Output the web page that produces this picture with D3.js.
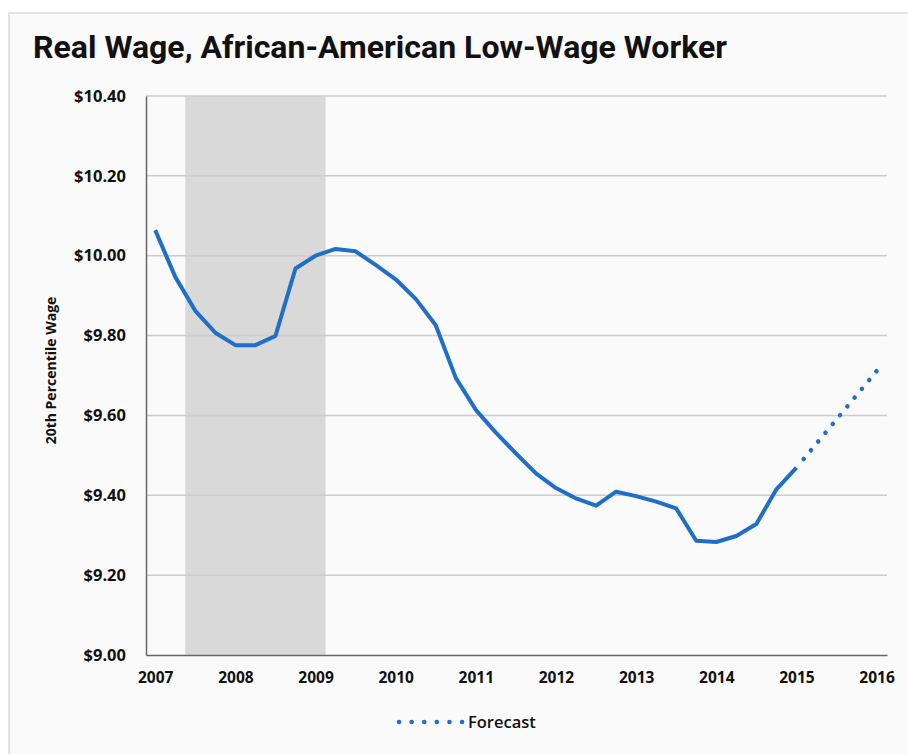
<!DOCTYPE html>
<html>
<head>
<meta charset="utf-8">
<script src="https://cdn.jsdelivr.net/npm/d3@7"></script>
<style>
  body { margin: 0; background: #fff; }
  text { font-family: "Open Sans", "Noto Sans", sans-serif; fill: #111; }
</style>
</head>
<body>
<svg width="908" height="754"></svg>
<script>
// quarterly real wage, 2007 Q1 .. 2015 Q1
var firstYear = 2007;
var wages = [10.064, 9.947, 9.862, 9.807,
             9.776, 9.776, 9.799, 9.968,
             10.000, 10.017, 10.011, 9.977,
             9.941, 9.892, 9.826, 9.694,
             9.614, 9.557, 9.505, 9.455,
             9.418, 9.392, 9.374, 9.409,
             9.398, 9.384, 9.367, 9.286,
             9.283, 9.298, 9.328, 9.415,
             9.469];
var forecastYears = [2015, 2016];
var forecastWages = [9.469, 9.711];
var recession = [2007.375, 2009.125];
var yearTicks = [2007, 2008, 2009, 2010, 2011, 2012, 2013, 2014, 2015, 2016];
var wageTicks = [9.0, 9.2, 9.4, 9.6, 9.8, 10.0, 10.2, 10.4];

var svg = d3.select("svg"),
    margin = {left: 146, right: 21, top: 96, bottom: 99},
    width = 908 - margin.left - margin.right,
    height = 754 - margin.top - margin.bottom;

// panel background + frame
svg.append("rect")
    .attr("x", 9).attr("y", 13)
    .attr("width", 940).attr("height", 760)
    .style("fill", "#fafafa")
    .style("stroke", "#dcdcdc")
    .style("stroke-width", 1.5);

svg.append("text")
    .attr("x", 33).attr("y", 58)
    .attr("textLength", 694)
    .attr("lengthAdjust", "spacingAndGlyphs")
    .style("font-family", "Roboto, 'Open Sans', sans-serif")
    .style("font-weight", 700)
    .style("font-size", "32px")
    .text("Real Wage, African-American Low-Wage Worker");

var g = svg.append("g").attr("transform", "translate(" + margin.left + "," + margin.top + ")");

var x = d3.scaleLinear().domain([2006.885, 2016.13]).range([0, width]);
var y = d3.scaleLinear().domain([9.0, 10.4]).range([height, 0]);

// recession shading
g.append("rect")
    .attr("x", x(recession[0]))
    .attr("y", 0)
    .attr("width", x(recession[1]) - x(recession[0]))
    .attr("height", height)
    .style("fill", "#d9d9d9");

// gridlines
g.selectAll(".grid")
  .data(wageTicks.slice(1))
  .enter().append("line")
    .attr("class", "grid")
    .attr("x1", 0).attr("x2", width)
    .attr("y1", function(d) { return y(d); })
    .attr("y2", function(d) { return y(d); })
    .style("stroke", "#cccccc")
    .style("stroke-width", 1.5);

// y axis
var yAxis = g.append("g")
    .call(d3.axisLeft(y).tickValues(wageTicks).tickSize(0).tickPadding(20)
      .tickFormat(function(d) { return "$" + d.toFixed(2); }));
yAxis.select(".domain").style("stroke", "#666").style("stroke-width", 1.5);
yAxis.selectAll("text")
    .style("font-size", "16.5px")
    .style("font-weight", 700)
    .style("fill", "#111");

// x axis
var xAxis = g.append("g")
    .attr("transform", "translate(0," + height + ")")
    .call(d3.axisBottom(x).tickValues(yearTicks).tickSize(0).tickPadding(17)
      .tickFormat(d3.format("d")));
xAxis.select(".domain").style("stroke", "#666").style("stroke-width", 1.5);
xAxis.selectAll("text")
    .style("font-size", "15.5px")
    .style("font-weight", 700)
    .style("fill", "#111");

svg.append("text")
    .attr("transform", "translate(56," + (margin.top + height / 2 - 5) + ") rotate(-90)")
    .attr("text-anchor", "middle")
    .style("font-size", "14px")
    .style("font-weight", 700)
    .text("20th Percentile Wage");

var line = d3.line()
    .x(function(d) { return x(d[0]); })
    .y(function(d) { return y(d[1]); });

var actual = wages.map(function(v, i) { return [firstYear + i / 4, v]; });
var forecast = forecastYears.map(function(yr, i) { return [yr, forecastWages[i]]; });

g.append("path")
    .datum(actual)
    .attr("d", line)
    .style("fill", "none")
    .style("stroke", "#1f6fc8")
    .style("stroke-width", 4)
    .style("stroke-linejoin", "round");

g.append("path")
    .datum(forecast)
    .attr("d", line)
    .style("fill", "none")
    .style("stroke", "#1f6fc8")
    .style("stroke-width", 4.5)
    .style("stroke-linecap", "round")
    .style("stroke-dasharray", "0.1, 11.3")
    .style("stroke-dashoffset", -11.3);

// legend
var legend = svg.append("g").attr("transform", "translate(399,722)");
legend.append("line")
    .attr("x1", 0).attr("x2", 64)
    .attr("y1", 0).attr("y2", 0)
    .style("stroke", "#1f6fc8")
    .style("stroke-width", 4.5)
    .style("stroke-linecap", "round")
    .style("stroke-dasharray", "0.1, 12.5");
legend.append("text")
    .attr("x", 69).attr("y", 6)
    .style("font-size", "16.5px")
    .style("font-weight", 600)
    .text("Forecast");
</script>
</body>
</html>
